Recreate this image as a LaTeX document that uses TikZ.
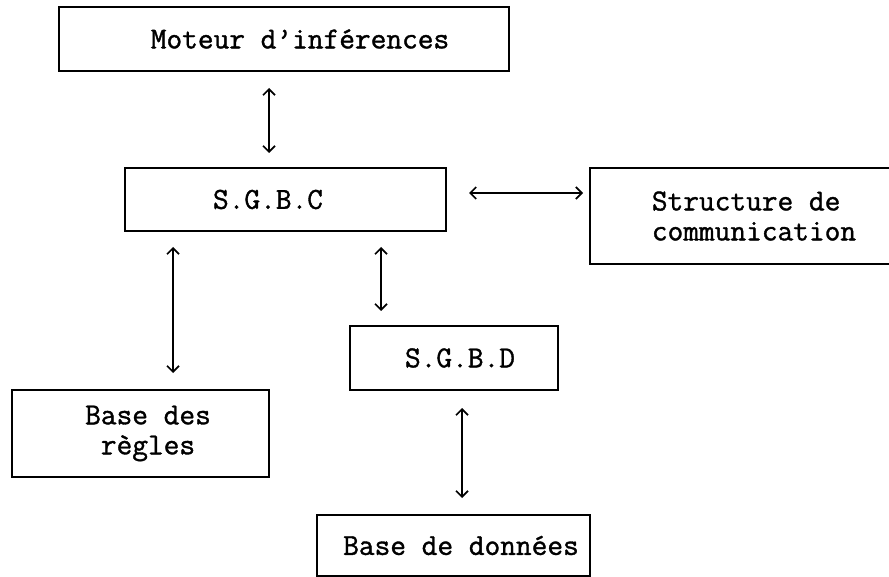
\documentclass[tikz,border=0pt]{standalone}
\usepackage{fontspec}
\newfontfamily\boxtt{Latin Modern Mono}[FakeBold=1.2,BoldFont={Latin Modern Mono}]
\usetikzlibrary{arrows.meta}
\tikzset{
  box/.style={draw, line width=1.8pt, inner sep=0pt, outer sep=0pt,
    font={\boxtt\bfseries\fontsize{30.5pt}{30pt}\selectfont}},
  dbl/.style={line width=1.7pt,
    {Straight Barb[length=6pt,width=12pt]}-{Straight Barb[length=6pt,width=12pt]}}
}
\begin{document}
\begin{tikzpicture}[x=1pt,y=-1pt]
\useasboundingbox (0,0) rectangle (889,577);
\clip (0,0) rectangle (889,577);
\fill[white] (0,0) rectangle (889,577);
\node[box, minimum width=450pt, minimum height=64pt] (moteur) at (284,39) {\hspace*{32pt}Moteur d’inférences};
\node[box, minimum width=321pt, minimum height=63pt] (sgbc) at (285.5,199.5) {S.G.B.C\hspace*{35pt}};
\node[box, align=left, minimum width=328pt, minimum height=96pt] (struct) at (754,216) {Structure de\\communication};
\node[box, minimum width=208pt, minimum height=64pt] (sgbd) at (454,358) {\hspace*{12pt}S.G.B.D};
\node[box, align=center, minimum width=257pt, minimum height=87pt] (regles) at (140.5,433.5) {\hspace*{15pt}Base des\\\hspace*{15pt}règles};
\node[box, minimum width=273pt, minimum height=61pt] (donnees) at (453.5,545.5) {\hspace*{15pt}Base de données};
\coordinate (x1) at (269,0);
\coordinate (y2) at (0,193);
\coordinate (x3) at (173,0);
\coordinate (x4) at (381,0);
\coordinate (x5) at (462,0);
\draw[dbl] ([yshift=-17pt]moteur.south -| x1) -- ([yshift=15pt]sgbc.north -| x1);
\draw[dbl] ([xshift=23pt]sgbc.east |- y2) -- ([xshift=-7pt]struct.west |- y2);
\draw[dbl] ([yshift=-16pt]sgbc.south -| x3) -- ([yshift=17pt]regles.north -| x3);
\draw[dbl] ([yshift=-16pt]sgbc.south -| x4) -- ([yshift=15pt]sgbd.north -| x4);
\draw[dbl] ([yshift=-18pt]sgbd.south -| x5) -- ([yshift=17pt]donnees.north -| x5);
\end{tikzpicture}
\end{document}
